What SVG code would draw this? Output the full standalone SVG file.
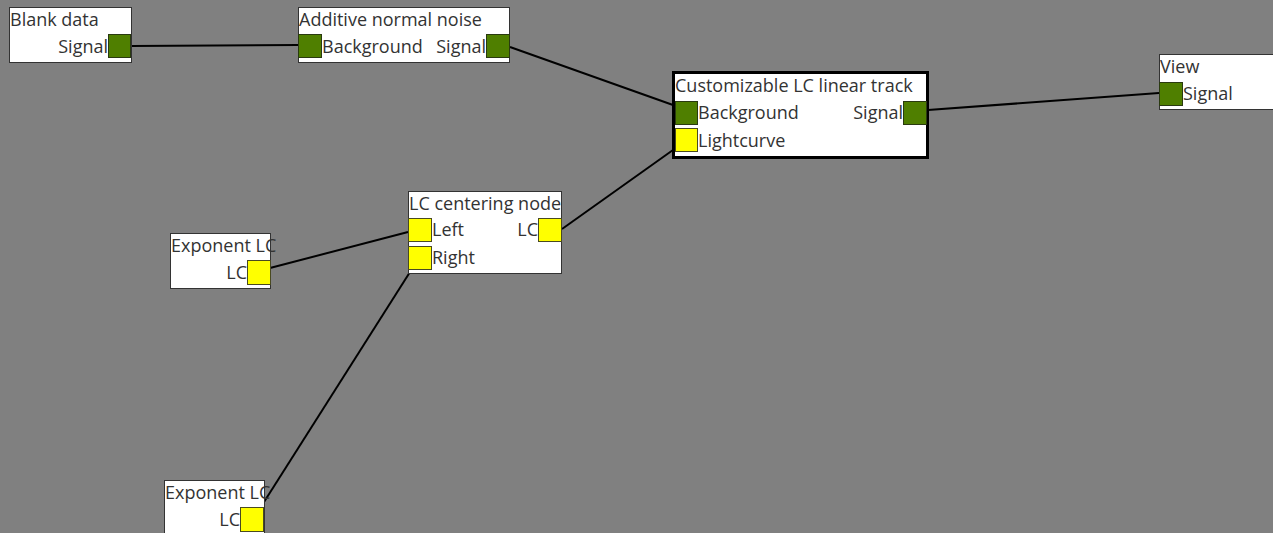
<svg xmlns="http://www.w3.org/2000/svg" width="1273" height="533" viewBox="0 0 1273 533">
  <style>
    .node { fill: #ffffff; stroke: #333333; stroke-width: 1; }
    .node.sel { stroke: #000000; stroke-width: 3; }
    .title, .lbl { font-family: "Open Sans", "Noto Sans", sans-serif; font-size: 18px; fill: #333333; }
    .r { text-anchor: end; }
    .sig { fill: #4f7f00; stroke: #2a3a10; stroke-width: 1; }
    .lc { fill: #ffff00; stroke: #4a4a20; stroke-width: 1; }
    .wire { stroke: #000000; stroke-width: 2; fill: none; }
  </style>
  <rect width="1273" height="533" fill="#808080"/>

  <g id="connectors">
    <line class="wire" x1="131" y1="46" x2="298" y2="45"/>
    <line class="wire" x1="510" y1="47" x2="673" y2="105"/>
    <line class="wire" x1="928" y1="110" x2="1159" y2="93"/>
    <line class="wire" x1="562" y1="229" x2="673" y2="150"/>
    <line class="wire" x1="270" y1="268" x2="408" y2="232"/>
    <line class="wire" x1="264" y1="502" x2="410" y2="272"/>
  </g>

  <g id="blank-data">
    <rect class="node" x="9.5" y="7.5" width="122" height="55"/>
    <text class="title" x="10" y="26">Blank data</text>
    <text class="lbl r" x="108" y="53">Signal</text>
    <rect class="sig" x="108.5" y="34.5" width="22" height="23"/>
  </g>

  <g id="additive-normal-noise">
    <rect class="node" x="298.5" y="7.5" width="211" height="55"/>
    <text class="title" x="299" y="26">Additive normal noise</text>
    <rect class="sig" x="298.5" y="34.5" width="23" height="23"/>
    <text class="lbl" x="322" y="53">Background</text>
    <text class="lbl r" x="486" y="53">Signal</text>
    <rect class="sig" x="486.5" y="34.5" width="23" height="23"/>
  </g>

  <g id="customizable-lc-linear-track">
    <rect class="node sel" x="673.5" y="72.5" width="254" height="85"/>
    <text class="title" x="675" y="92">Customizable LC linear track</text>
    <rect class="sig" x="675.5" y="101.5" width="22" height="23"/>
    <text class="lbl" x="698" y="119">Background</text>
    <text class="lbl r" x="903" y="119">Signal</text>
    <rect class="sig" x="903.5" y="101.5" width="23" height="23"/>
    <rect class="lc" x="675.5" y="128.5" width="22" height="23"/>
    <text class="lbl" x="698" y="147">Lightcurve</text>
  </g>

  <g id="view">
    <rect class="node" x="1159.5" y="54.5" width="120" height="55"/>
    <text class="title" x="1160" y="73">View</text>
    <rect class="sig" x="1159.5" y="82.5" width="23" height="23"/>
    <text class="lbl" x="1183" y="100">Signal</text>
  </g>

  <g id="lc-centering-node">
    <rect class="node" x="408.5" y="191.5" width="153" height="82"/>
    <text class="title" x="409" y="210">LC centering node</text>
    <rect class="lc" x="408.5" y="218.5" width="23" height="23"/>
    <text class="lbl" x="432" y="236">Left</text>
    <text class="lbl r" x="538" y="236">LC</text>
    <rect class="lc" x="538.5" y="218.5" width="23" height="23"/>
    <rect class="lc" x="408.5" y="246.5" width="23" height="23"/>
    <text class="lbl" x="432" y="264">Right</text>
  </g>

  <g id="exponent-lc-1">
    <rect class="node" x="170.5" y="233.5" width="100" height="55"/>
    <text class="title" x="171" y="252">Exponent LC</text>
    <text class="lbl r" x="247" y="279">LC</text>
    <rect class="lc" x="247.5" y="260.5" width="23" height="24"/>
  </g>

  <g id="exponent-lc-2">
    <rect class="node" x="164.5" y="480.5" width="100" height="60"/>
    <text class="title" x="165" y="499">Exponent LC</text>
    <text class="lbl r" x="240" y="526">LC</text>
    <rect class="lc" x="240.5" y="507.5" width="23" height="24"/>
  </g>
</svg>
